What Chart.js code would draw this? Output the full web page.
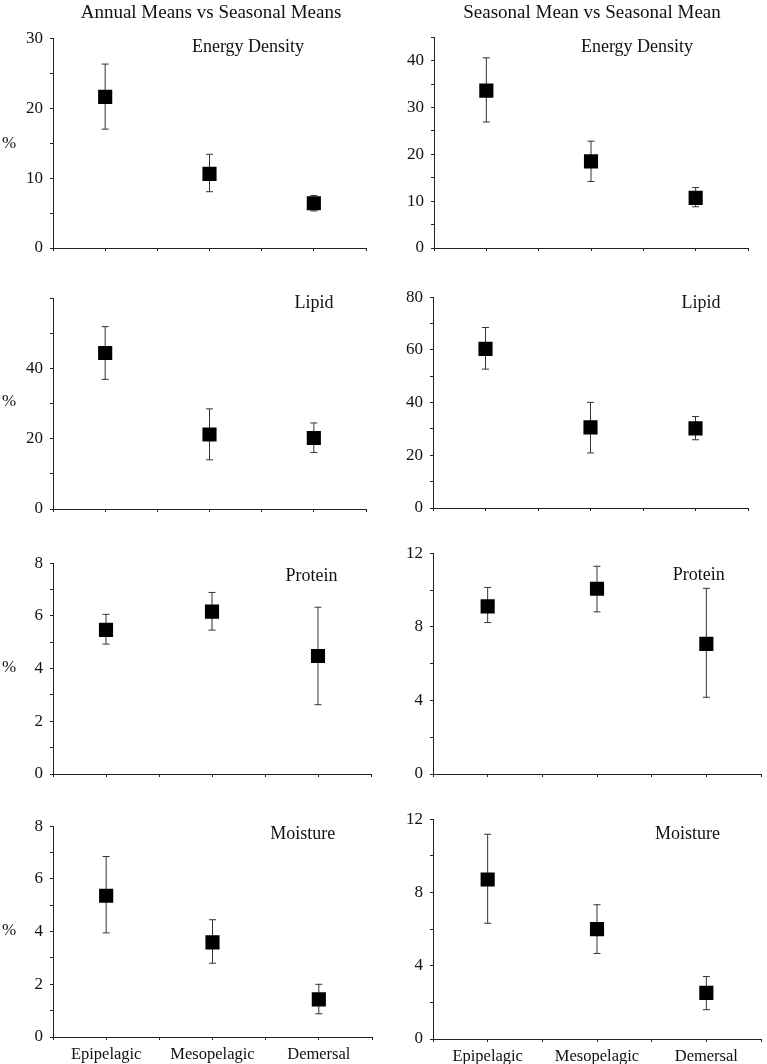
<!DOCTYPE html>
<html>
<head>
<meta charset="utf-8">
<script src="https://cdn.jsdelivr.net/npm/chart.js@4.4.0/dist/chart.umd.min.js"></script>
<style>
  body { margin: 0; background: #fff; }
  #page { position: relative; width: 767px; height: 1064px; overflow: hidden; font-family: "Liberation Serif", serif; color: #111; }
  .txt { position: absolute; white-space: nowrap; line-height: 1; transform: translateX(-50%); }
  .panel { position: absolute; }
</style>
</head>
<body>
<div id="page"></div>
<script>
var categories = ["Epipelagic", "Mesopelagic", "Demersal"];

// Annual means vs seasonal means
var energyAnnualMean = [21.6, 10.6, 6.4];
var energyAnnualLow = [17.0, 8.05, 5.3];
var energyAnnualHigh = [26.3, 13.4, 7.5];
var lipidAnnualMean = [44.4, 21.2, 20.2];
var lipidAnnualLow = [36.9, 14.0, 16.1];
var lipidAnnualHigh = [51.9, 28.5, 24.5];
var proteinAnnualMean = [5.47, 6.16, 4.48];
var proteinAnnualLow = [4.93, 5.46, 2.63];
var proteinAnnualHigh = [6.06, 6.89, 6.33];
var moistureAnnualMean = [5.36, 3.59, 1.43];
var moistureAnnualLow = [3.95, 2.80, 0.88];
var moistureAnnualHigh = [6.85, 4.45, 2.00];

// Seasonal mean vs seasonal mean
var energySeasonalMean = [33.6, 18.5, 10.7];
var energySeasonalLow = [26.9, 14.2, 8.8];
var energySeasonalHigh = [40.6, 22.8, 12.9];
var lipidSeasonalMean = [60.4, 30.6, 30.2];
var lipidSeasonalLow = [52.7, 20.9, 25.9];
var lipidSeasonalHigh = [68.5, 40.1, 34.7];
var proteinSeasonalMean = [9.11, 10.07, 7.07];
var proteinSeasonalLow = [8.23, 8.81, 4.17];
var proteinSeasonalHigh = [10.14, 11.29, 10.09];
var moistureSeasonalMean = [8.71, 6.00, 2.52];
var moistureSeasonalLow = [6.32, 4.67, 1.60];
var moistureSeasonalHigh = [11.18, 7.33, 3.41];

// y tick labels shown on each axis
var energyAnnualTicks = [0, 10, 20, 30];
var energySeasonalTicks = [0, 10, 20, 30, 40];
var lipidAnnualTicks = [0, 20, 40];
var lipidSeasonalTicks = [0, 20, 40, 60, 80];
var proteinAnnualTicks = [0, 2, 4, 6, 8];
var proteinSeasonalTicks = [0, 4, 8, 12];
var moistureAnnualTicks = [0, 2, 4, 6, 8];
var moistureSeasonalTicks = [0, 4, 8, 12];

var PADL = 50, PADR = 6, PADT = 12, PADB = 30;
var axisColor = "#222";
var tickFont = { family: "Liberation Serif", size: 17 };
var catFont = { family: "Liberation Serif", size: 16.5 };

var page = document.getElementById("page");

function addText(str, cx, baseline, size) {
    var d = document.createElement("div");
    d.className = "txt";
    d.textContent = str;
    d.style.fontSize = size + "px";
    d.style.left = cx + "px";
    d.style.top = (baseline - 0.84 * size) + "px";
    page.appendChild(d);
}

// chart area boxes: L/R = x axis ends, T = top of y axis, B = zero line
var panels = [
    { L: 53, R: 370, T: 33, B: 248, mean: energyAnnualMean, low: energyAnnualLow, high: energyAnnualHigh, max: 30, step: 5, labels: energyAnnualTicks },
    { L: 434, R: 752, T: 32, B: 248, mean: energySeasonalMean, low: energySeasonalLow, high: energySeasonalHigh, max: 45, step: 5, labels: energySeasonalTicks },
    { L: 53, R: 370, T: 292.7, B: 508.3, mean: lipidAnnualMean, low: lipidAnnualLow, high: lipidAnnualHigh, max: 60, step: 10, labels: lipidAnnualTicks },
    { L: 433, R: 752, T: 292.3, B: 508.3, mean: lipidSeasonalMean, low: lipidSeasonalLow, high: lipidSeasonalHigh, max: 80, step: 10, labels: lipidSeasonalTicks },
    { L: 53, R: 375, T: 558.3, B: 774.3, mean: proteinAnnualMean, low: proteinAnnualLow, high: proteinAnnualHigh, max: 8, step: 1, labels: proteinAnnualTicks },
    { L: 433, R: 765, T: 548.3, B: 774, mean: proteinSeasonalMean, low: proteinSeasonalLow, high: proteinSeasonalHigh, max: 12, step: 2, labels: proteinSeasonalTicks },
    { L: 53, R: 375.5, T: 820.7, B: 1037, mean: moistureAnnualMean, low: moistureAnnualLow, high: moistureAnnualHigh, max: 8, step: 1, labels: moistureAnnualTicks, xLabels: true },
    { L: 433, R: 765, T: 814, B: 1039.3, mean: moistureSeasonalMean, low: moistureSeasonalLow, high: moistureSeasonalHigh, max: 12, step: 2, labels: moistureSeasonalTicks, xLabels: true }
];

panels.forEach(function (p) {
    var div = document.createElement("div");
    div.className = "panel";
    div.style.left = (p.L - PADL) + "px";
    div.style.top = (p.T - PADT) + "px";
    var cv = document.createElement("canvas");
    cv.width = Math.round(p.R - p.L + PADL + PADR);
    cv.height = Math.round(p.B - p.T + PADT + PADB);
    div.appendChild(cv);
    page.appendChild(div);

    var datasets = [{
        data: p.mean.map(function (m, i) { return { x: i + 0.5, y: m }; }),
        pointStyle: "rect",
        pointRadius: 10,
        pointBackgroundColor: "#000",
        pointBorderWidth: 0,
        order: 0
    }];
    p.mean.forEach(function (m, i) {
        datasets.push({
            data: [{ x: i + 0.5, y: p.low[i] }, { x: i + 0.5, y: p.high[i] }],
            showLine: true,
            borderColor: "#333",
            borderWidth: 1,
            pointStyle: "line",
            pointRadius: 3.5,
            pointBorderWidth: 1,
            pointBorderColor: "#333",
            order: 1
        });
    });

    new Chart(cv, {
        type: "scatter",
        data: { datasets: datasets },
        options: {
            responsive: false,
            animation: false,
            events: [],
            layout: { padding: { top: PADT, right: PADR, left: 0, bottom: 0 } },
            plugins: { legend: { display: false }, tooltip: { enabled: false } },
            scales: {
                x: {
                    type: "linear", min: 0, max: 3,
                    afterFit: function (s) { s.height = PADB; },
                    ticks: {
                        stepSize: 0.5, autoSkip: false, maxRotation: 0, padding: 5,
                        font: catFont, color: "#111",
                        callback: function (v) {
                            if (!p.xLabels) return "";
                            var i = v - 0.5;
                            return Math.abs(i - Math.round(i)) < 1e-6 ? categories[Math.round(i)] : "";
                        }
                    },
                    grid: { drawOnChartArea: false, drawTicks: true, tickLength: 3, color: axisColor },
                    border: { color: axisColor, width: 1 }
                },
                y: {
                    min: 0, max: p.max,
                    afterFit: function (s) { s.width = PADL; },
                    ticks: {
                        stepSize: p.step, autoSkip: false, padding: 7,
                        font: tickFont, color: "#111",
                        callback: function (v) { return p.labels.indexOf(v) >= 0 ? String(v) : ""; }
                    },
                    grid: { drawOnChartArea: false, drawTicks: true, tickLength: 3, color: axisColor },
                    border: { color: axisColor, width: 1 }
                }
            }
        }
    });
});

addText("Annual Means vs Seasonal Means", 211, 17.7, 19);
addText("Seasonal Mean vs Seasonal Mean", 592, 17.7, 19);
addText("Energy Density", 248, 51.7, 18);
addText("Energy Density", 637, 52, 18);
addText("Lipid", 314, 307.7, 18);
addText("Lipid", 701, 308, 18);
addText("Protein", 311.5, 580.7, 18);
addText("Protein", 698.7, 580, 18);
addText("Moisture", 302.8, 839.3, 18);
addText("Moisture", 687.5, 839.3, 18);
addText("%", 9, 148, 17);
addText("%", 9, 406.7, 17);
addText("%", 9, 672.7, 17);
addText("%", 9, 935, 17);
</script>
</body>
</html>
